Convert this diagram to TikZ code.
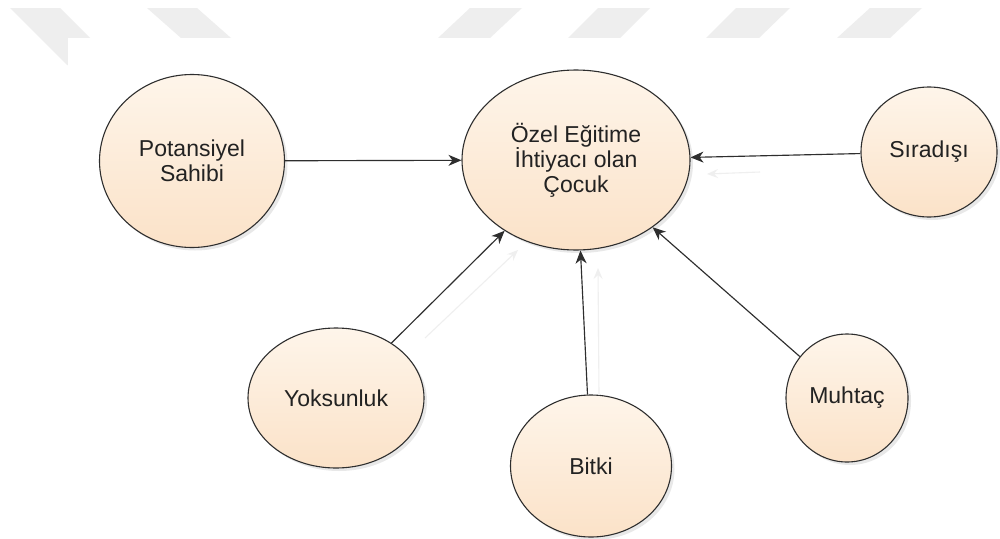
\documentclass[tikz,border=0pt]{standalone}
\usepackage{fontspec}
\setmainfont{Liberation Sans}
\usetikzlibrary{arrows.meta,shadows,shapes.geometric}
\definecolor{wm}{HTML}{EEEEEE}
\definecolor{peachtop}{HTML}{FEF5EA}
\definecolor{peachbot}{HTML}{FBE2C8}
\definecolor{edgec}{HTML}{2E2E2E}
\definecolor{txtc}{HTML}{222222}
\definecolor{ghost}{HTML}{EFEFEF}
\tikzset{
  bubble/.style={ellipse, draw=edgec, line width=1.1pt, inner sep=0pt,
    top color=peachtop, bottom color=peachbot, text=txtc, align=center,
    font=\fontsize{23}{25}\selectfont,
    drop shadow={shadow xshift=3pt, shadow yshift=-3pt, opacity=0.18, fill=gray}},
  link/.style={draw=edgec, line width=1.15pt, -{Stealth[length=13pt,width=11pt,inset=4pt]}},
  ghostlink/.style={draw=ghost, line width=1.1pt, -{Stealth[length=11pt,width=9pt,inset=4pt]}},
  mark wm/.style={fill=wm, draw=none}
}
\begin{document}
\begin{tikzpicture}[x=1pt,y=-1pt]
\useasboundingbox (0,0) rectangle (1000,538);
\fill[white] (0,0) rectangle (1000,538);
% watermark
\fill[mark wm] (10,8) -- (60,8) -- (117,65) -- (67,65) -- cycle;
\fill[mark wm] (147,8) -- (197,8) -- (231,38) -- (181,38) -- cycle;
\fill[mark wm] (470,8) -- (522,8) -- (490,38) -- (438,38) -- cycle;
\fill[mark wm] (598,8) -- (650,8) -- (620,38) -- (568,38) -- cycle;
\fill[mark wm] (736,8) -- (790,8) -- (759,38) -- (706,38) -- cycle;
\fill[mark wm] (870,8) -- (922,8) -- (890,38) -- (837,38) -- cycle;
\fill[white] (68,38) rectangle (1000,538);
% nodes
\node[bubble, minimum width=228pt, minimum height=180pt] (C) at (576,160) {Özel Eğitime\\İhtiyacı olan\\Çocuk};
\node[bubble, minimum width=185pt, minimum height=173pt] (P) at (192,161) {Potansiyel\\Sahibi};
\node[bubble, minimum width=136pt, minimum height=130pt] (S) at (929,152) {Sıradışı};
\node[bubble, minimum width=176pt, minimum height=140pt] (Y) at (336,398) {Yoksunluk};
\node[bubble, minimum width=161pt, minimum height=142pt] (B) at (591,466) {Bitki};
\node[bubble, minimum width=122pt, minimum height=128pt] (M) at (847,398) {Muhtaç};
% ghost connectors
\coordinate (gy1) at (425,338);
\coordinate (gy2) at (518,250);
\coordinate (gb1) at (599,395);
\coordinate (gb2) at (598,268);
\coordinate (gs1) at (760,172);
\coordinate (gs2) at (707,174);
\draw[ghostlink] (gy1) -- (gy2);
\draw[ghostlink] (gb1) -- (gb2);
\draw[ghostlink] (gs1) -- (gs2);
% connectors
\draw[link] (P) -- (C);
\draw[link] (S) -- (C);
\draw[link] (Y) -- (C);
\draw[link] (B) -- (C);
\draw[link] (M) -- (C);
\end{tikzpicture}
\end{document}
